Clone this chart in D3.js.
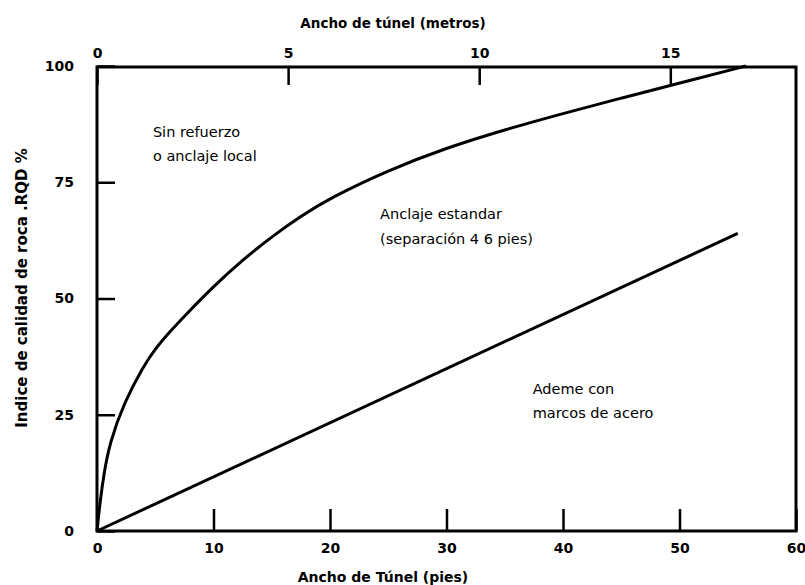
<!DOCTYPE html>
<html><head><meta charset="utf-8">
<script src="https://cdn.jsdelivr.net/npm/d3@7"></script>
<style>
body{margin:0;background:#fff;}
svg{display:block;}
</style></head>
<body>
<svg id="chart" width="805" height="585"></svg>
<script>
// Data (tunnel width in feet, RQD %)
const curveFeet = [0, 0.25, 0.6, 1.1, 2.3, 4.0, 5.0, 6.3, 7.5, 10, 12.5, 15, 17.5, 20, 25, 30, 35, 40, 45, 50, 55.7];
const curveRQD  = [0, 6.0, 12.5, 19.0, 27.5, 35.5, 39.2, 43.0, 46.2, 52.6, 58.3, 63.3, 67.7, 71.6, 77.6, 82.4, 86.3, 89.8, 93.1, 96.3, 100];
const lineFeet = [0, 55];
const lineRQD  = [0, 64];
const feetTicks = [0, 10, 20, 30, 40, 50, 60];
const meterTicks = [0, 5, 10, 15];
const rqdTicks = [0, 25, 50, 75, 100];
const labels = [
  {lines: ["Sin refuerzo", "o anclaje local"], ft: 4.8, rqd: 84.8},
  {lines: ["Anclaje estandar", "(separación 4 6 pies)"], ft: 24.3, rqd: 67.0},
  {lines: ["Ademe con", "marcos de acero"], ft: 37.4, rqd: 29.5}
];
const xTitle = "Ancho de Túnel (pies)";
const topTitle = "Ancho de túnel (metros)";
const yTitle = "Indice de calidad de roca .RQD %";
const FT_PER_M = 3.2808;

const svg = d3.select("#chart");
const L = 97, R = 796, T = 66, B = 531;
const x = d3.scaleLinear().domain([0, 60]).range([L, R]);
const y = d3.scaleLinear().domain([0, 100]).range([B, T]);
const xm = d3.scaleLinear().domain([0, 60 / FT_PER_M]).range([L, R]);

const font = "'DejaVu Sans', sans-serif";

const gb = svg.append("g").attr("transform", `translate(0,${B})`)
  .call(d3.axisBottom(x).tickValues(feetTicks).tickSize(-22).tickPadding(12).tickFormat(d3.format("d")));
const gl = svg.append("g").attr("transform", `translate(${L},0)`)
  .call(d3.axisLeft(y).tickValues(rqdTicks).tickSize(-18).tickPadding(23).tickFormat(d3.format("d")));
const gt = svg.append("g").attr("transform", `translate(0,${T + 1})`)
  .call(d3.axisTop(xm).tickValues(meterTicks).tickSize(-18).tickPadding(9).tickFormat(d3.format("d")));

[gb, gl, gt].forEach(g => {
  g.select(".domain").remove();
  g.selectAll(".tick line").attr("stroke", "#000").attr("stroke-width", 2.5);
  g.selectAll(".tick text").attr("fill", "#000").style("font-family", font)
    .style("font-size", "14px").style("font-weight", "bold");
});

svg.append("rect").attr("x", L).attr("y", T + 1).attr("width", R - L).attr("height", B - T - 1)
  .attr("fill", "none").attr("stroke", "#000").attr("stroke-width", 3);

const curveData = curveFeet.map((f, i) => [f, curveRQD[i]]);
const lineData = lineFeet.map((f, i) => [f, lineRQD[i]]);
const gen = d3.line().x(d => x(d[0])).y(d => y(d[1])).curve(d3.curveBasis);
svg.append("path").datum(curveData).attr("d", gen).attr("fill", "none")
  .attr("stroke", "#000").attr("stroke-width", 3).attr("stroke-linejoin", "round");
svg.append("path").datum(lineData).attr("d", d3.line().x(d => x(d[0])).y(d => y(d[1]))).attr("fill", "none")
  .attr("stroke", "#000").attr("stroke-width", 3);

labels.forEach(lb => {
  const t = svg.append("text").attr("x", x(lb.ft)).attr("y", y(lb.rqd))
    .style("font-family", font).style("font-size", "14.5px").attr("fill", "#000");
  lb.lines.forEach((s, i) => t.append("tspan").attr("x", x(lb.ft)).attr("dy", i ? "1.7em" : 0).text(s));
});

svg.append("text").attr("x", 383).attr("y", 582).attr("text-anchor", "middle")
  .style("font-family", font).style("font-size", "14px").style("font-weight", "bold").text(xTitle);
svg.append("text").attr("x", 393).attr("y", 28).attr("text-anchor", "middle")
  .style("font-family", font).style("font-size", "13.5px").style("font-weight", "bold").text(topTitle);
svg.append("text").attr("transform", "translate(27,288) rotate(-90)").attr("text-anchor", "middle")
  .style("font-family", font).style("font-size", "15px").style("font-weight", "bold").text(yTitle);
</script>
</body></html>
